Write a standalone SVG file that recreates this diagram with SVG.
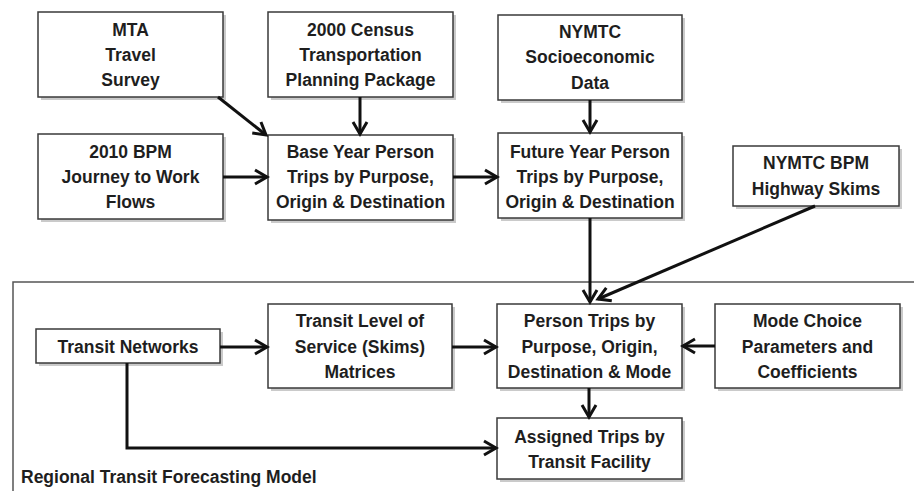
<svg xmlns="http://www.w3.org/2000/svg" width="914" height="491" viewBox="0 0 914 491">
<defs>
<style>
.box{fill:#fff;stroke:#3a3a3a;stroke-width:1.5}
.sh{fill:#cacaca}
.t{font-family:"Liberation Sans",Arial,sans-serif;font-weight:bold;font-size:17.5px;fill:#1e1e1e;text-anchor:middle}
.c{fill:none;stroke:#111;stroke-width:3}
.frame{fill:none;stroke:#555;stroke-width:1.5}
</style>
<marker id="ah" markerUnits="userSpaceOnUse" markerWidth="16" markerHeight="16" refX="12" refY="7" orient="auto" overflow="visible">
<path d="M0,0 L12,7 L0,14" fill="none" stroke="#111" stroke-width="3"/>
</marker>
</defs>
<rect width="914" height="491" fill="#fff"/>
<path class="frame" d="M914,282 H13 V491"/>
<text x="21" y="483" style="font-family:'Liberation Sans',Arial,sans-serif;font-weight:bold;font-size:17.5px;fill:#1e1e1e">Regional Transit Forecasting Model</text>

<g id="mta">
<rect class="sh" x="41" y="15" width="185" height="85"/>
<rect class="box" x="38" y="12" width="185" height="85"/>
<text class="t" x="130.5" y="36">MTA</text>
<text class="t" x="130.5" y="61">Travel</text>
<text class="t" x="130.5" y="86">Survey</text>
</g>
<g id="census">
<rect class="sh" x="271" y="15" width="185" height="85"/>
<rect class="box" x="268" y="12" width="185" height="85"/>
<text class="t" x="360.5" y="36">2000 Census</text>
<text class="t" x="360.5" y="61">Transportation</text>
<text class="t" x="360.5" y="86">Planning Package</text>
</g>
<g id="socio">
<rect class="sh" x="501" y="18" width="184" height="85"/>
<rect class="box" x="498" y="15" width="184" height="85"/>
<text class="t" x="590" y="38">NYMTC</text>
<text class="t" x="590" y="63">Socioeconomic</text>
<text class="t" x="590" y="89">Data</text>
</g>
<g id="jtw">
<rect class="sh" x="41" y="137" width="185" height="85"/>
<rect class="box" x="38" y="134" width="185" height="85"/>
<text class="t" x="130.5" y="158">2010 BPM</text>
<text class="t" x="130.5" y="183">Journey to Work</text>
<text class="t" x="130.5" y="208">Flows</text>
</g>
<g id="base">
<rect class="sh" x="271" y="138" width="185" height="85"/>
<rect class="box" x="268" y="135" width="185" height="85"/>
<text class="t" x="360.5" y="158">Base Year Person</text>
<text class="t" x="360.5" y="183">Trips by Purpose,</text>
<text class="t" x="360.5" y="208">Origin &amp; Destination</text>
</g>
<g id="future">
<rect class="sh" x="501" y="136" width="184" height="85"/>
<rect class="box" x="498" y="133" width="184" height="85"/>
<text class="t" x="590" y="158">Future Year Person</text>
<text class="t" x="590" y="183">Trips by Purpose,</text>
<text class="t" x="590" y="208">Origin &amp; Destination</text>
</g>
<g id="hwy">
<rect class="sh" x="736" y="149" width="166" height="60"/>
<rect class="box" x="733" y="146" width="166" height="60"/>
<text class="t" x="816" y="169">NYMTC BPM</text>
<text class="t" x="816" y="195">Highway Skims</text>
</g>
<g id="tn">
<rect class="sh" x="39" y="332" width="184" height="34"/>
<rect class="box" x="36" y="329" width="184" height="34"/>
<text class="t" x="128" y="353">Transit Networks</text>
</g>
<g id="los">
<rect class="sh" x="271" y="307" width="184" height="84"/>
<rect class="box" x="268" y="304" width="184" height="84"/>
<text class="t" x="360" y="327">Transit Level of</text>
<text class="t" x="360" y="353">Service (Skims)</text>
<text class="t" x="360" y="378">Matrices</text>
</g>
<g id="person">
<rect class="sh" x="500" y="307" width="185" height="84"/>
<rect class="box" x="497" y="304" width="185" height="84"/>
<text class="t" x="589.5" y="327">Person Trips by</text>
<text class="t" x="589.5" y="353">Purpose, Origin,</text>
<text class="t" x="589.5" y="378">Destination &amp; Mode</text>
</g>
<g id="mode">
<rect class="sh" x="718" y="307" width="185" height="84"/>
<rect class="box" x="715" y="304" width="185" height="84"/>
<text class="t" x="807.5" y="327">Mode Choice</text>
<text class="t" x="807.5" y="353">Parameters and</text>
<text class="t" x="807.5" y="378">Coefficients</text>
</g>
<g id="assigned">
<rect class="sh" x="500" y="421" width="185" height="61"/>
<rect class="box" x="497" y="418" width="185" height="61"/>
<text class="t" x="589.5" y="443">Assigned Trips by</text>
<text class="t" x="589.5" y="468">Transit Facility</text>
</g>

<g id="connectors">
<line class="c" x1="218" y1="97" x2="266" y2="135" marker-end="url(#ah)"/>
<line class="c" x1="360" y1="97" x2="360" y2="134" marker-end="url(#ah)"/>
<line class="c" x1="223" y1="177" x2="267" y2="177" marker-end="url(#ah)"/>
<line class="c" x1="453" y1="177" x2="497" y2="177" marker-end="url(#ah)"/>
<line class="c" x1="590" y1="100" x2="590" y2="132" marker-end="url(#ah)"/>
<line class="c" x1="590" y1="218" x2="590" y2="302" marker-end="url(#ah)"/>
<line class="c" x1="815" y1="206" x2="598" y2="299" marker-end="url(#ah)"/>
<line class="c" x1="220" y1="347" x2="267" y2="347" marker-end="url(#ah)"/>
<line class="c" x1="452" y1="347" x2="496" y2="347" marker-end="url(#ah)"/>
<line class="c" x1="715" y1="346" x2="683" y2="346" marker-end="url(#ah)"/>
<line class="c" x1="589" y1="388" x2="589" y2="417" marker-end="url(#ah)"/>
<path class="c" d="M127,363 V448 H496" marker-end="url(#ah)"/>
</g>
</svg>
